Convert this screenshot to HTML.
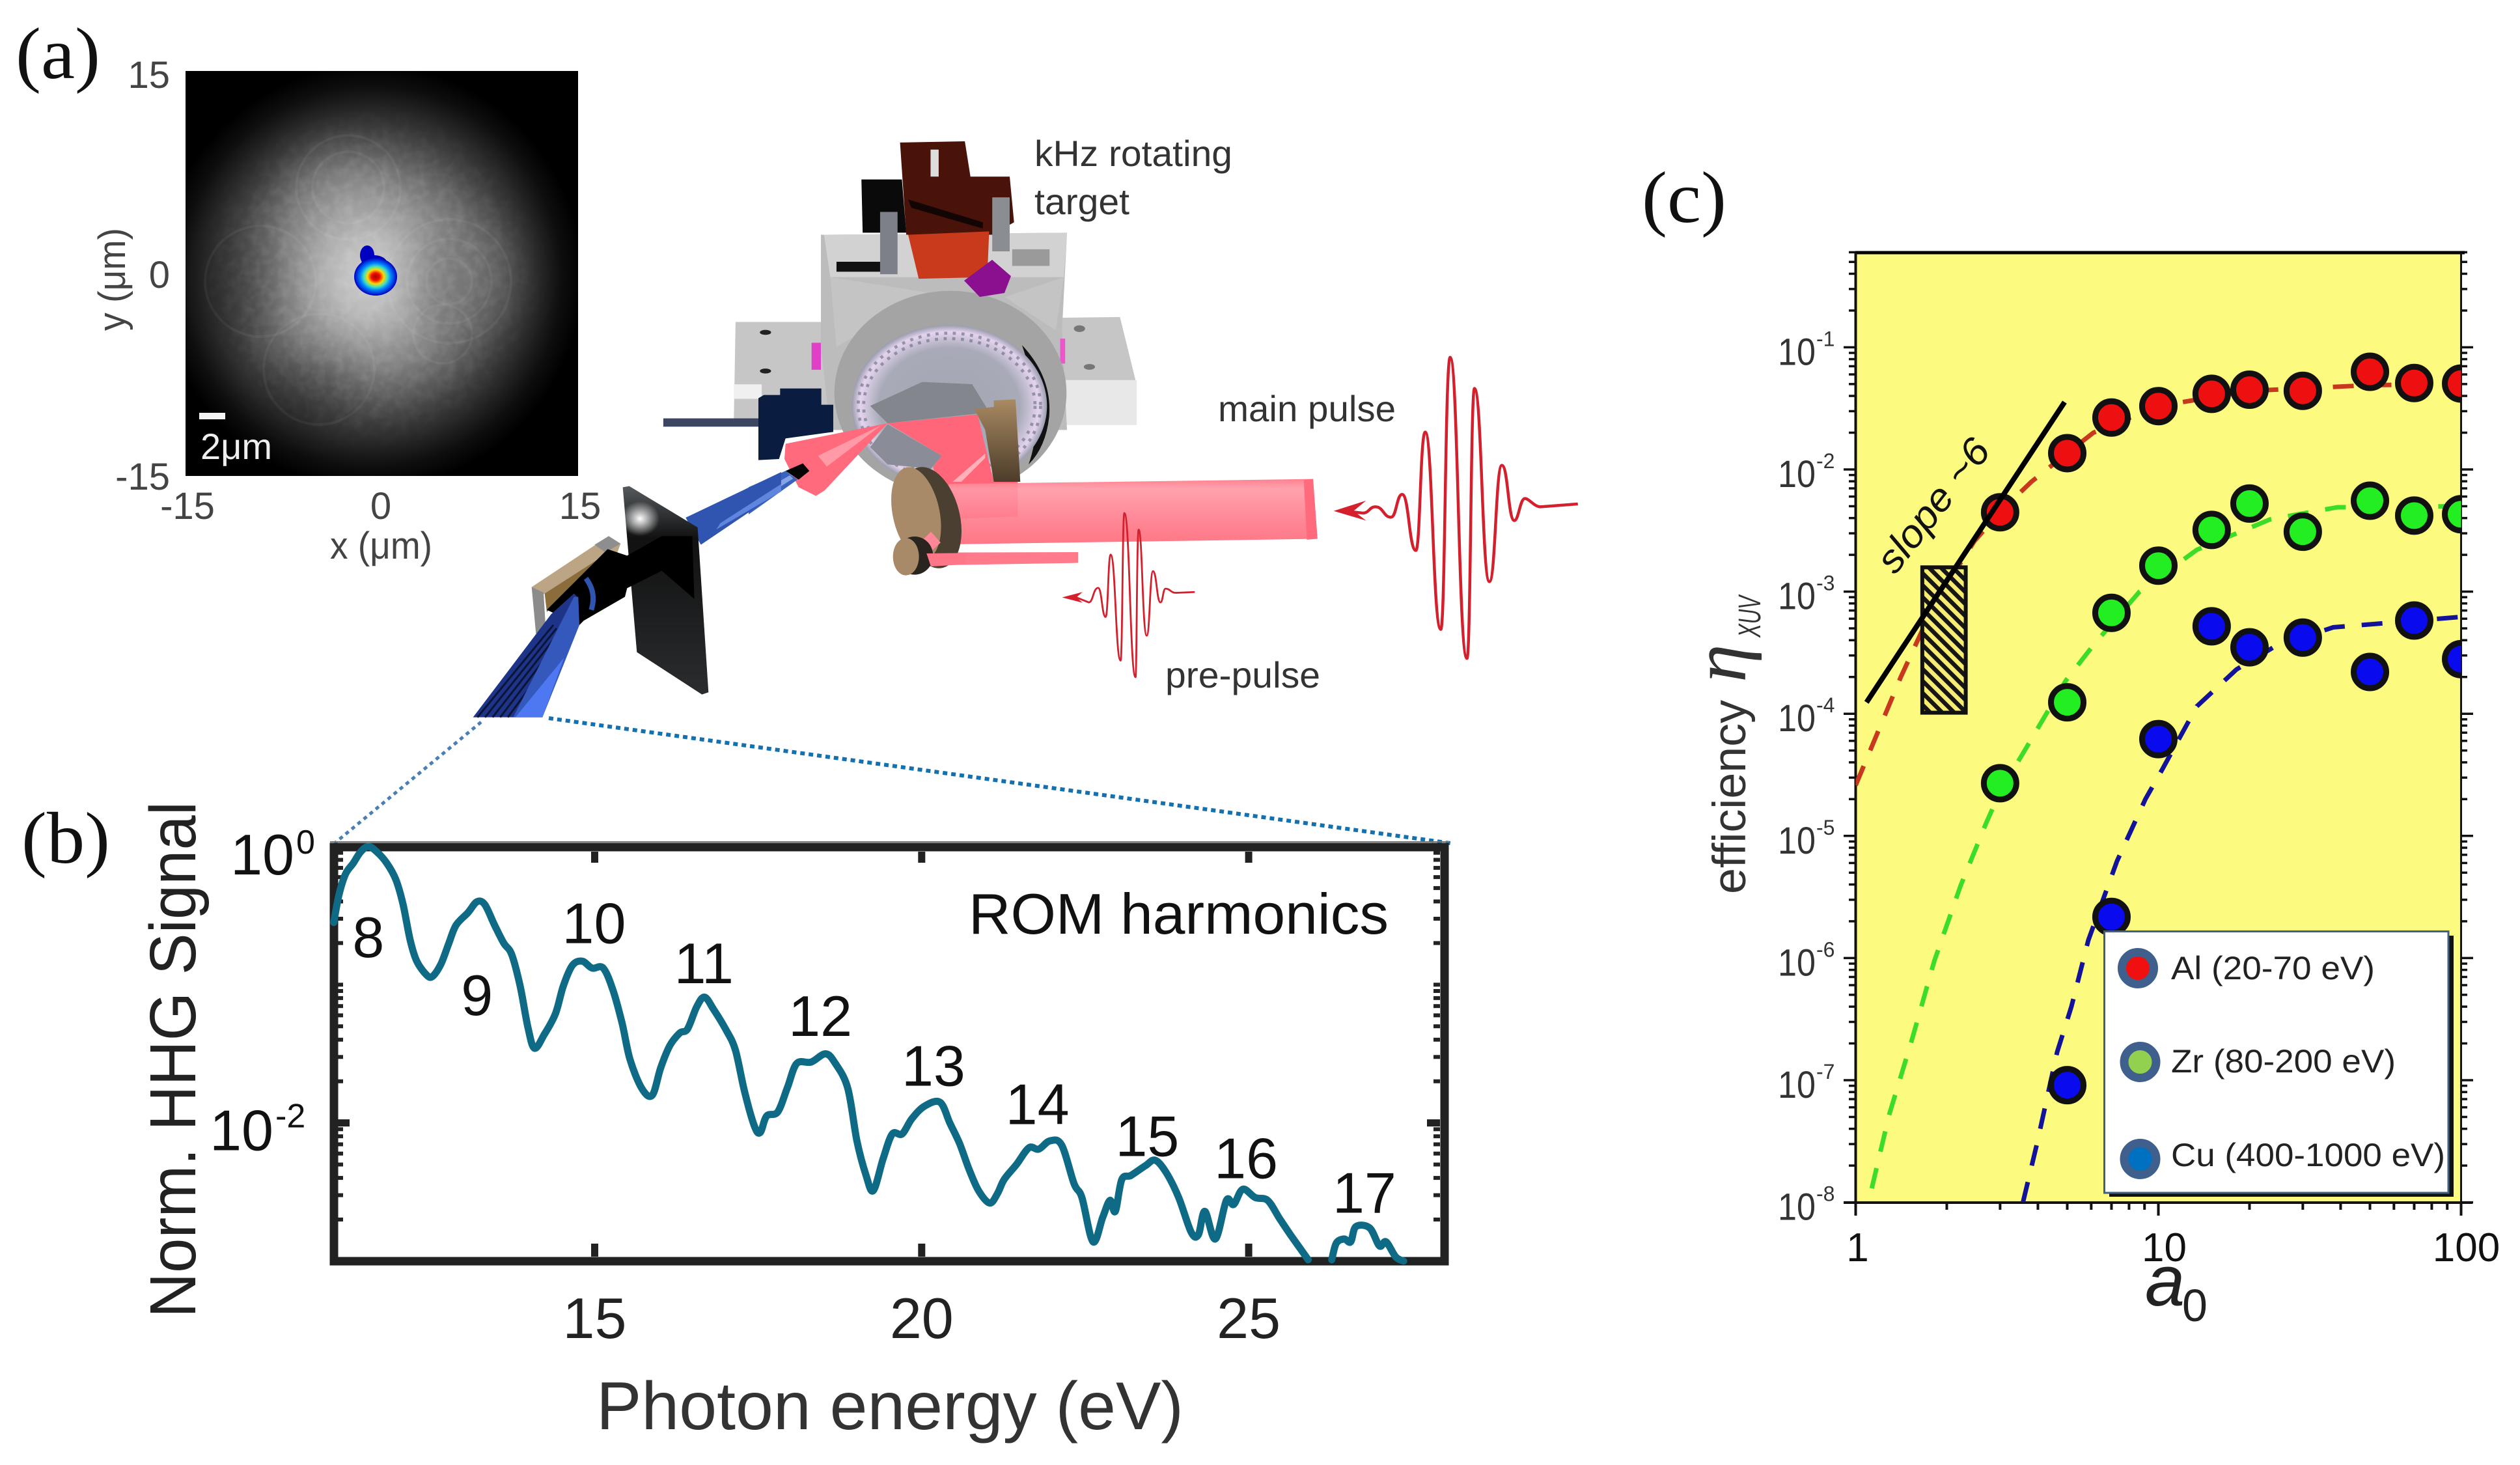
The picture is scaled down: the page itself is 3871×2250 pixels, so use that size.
<!DOCTYPE html>
<html lang="en">
<head>
<meta charset="utf-8">
<title>ROM harmonics experiment</title>
<style>
html,body{margin:0;padding:0;background:#fff}
svg{display:block}
text{font-family:"Liberation Sans",sans-serif}
.serif{font-family:"Liberation Serif",serif}
</style>
</head>
<body>
<svg id="fig" xmlns="http://www.w3.org/2000/svg" width="3871" height="2250" viewBox="0 0 3871 2250">
<defs>
  <radialGradient id="speckle" gradientUnits="userSpaceOnUse" cx="570" cy="425" r="325">
    <stop offset="0" stop-color="#d2d2d2"/><stop offset=".2" stop-color="#b4b4b4"/><stop offset=".45" stop-color="#7c7c7c"/><stop offset=".7" stop-color="#3a3a3a"/><stop offset=".9" stop-color="#0e0e0e"/><stop offset="1" stop-color="#000"/>
  </radialGradient>
  <radialGradient id="noiseFade"><stop offset="0" stop-color="#000"/><stop offset=".6" stop-color="#000" stop-opacity=".8"/><stop offset="1" stop-color="#000" stop-opacity="0"/></radialGradient>
  <radialGradient id="beam"><stop offset="0" stop-color="#a80000"/><stop offset=".2" stop-color="#f01000"/><stop offset=".38" stop-color="#ffd800"/><stop offset=".55" stop-color="#40e0c0"/><stop offset=".72" stop-color="#0080ff"/><stop offset="1" stop-color="#0000c0"/></radialGradient>
  <radialGradient id="discFill"><stop offset="0" stop-color="#a4a6b2"/><stop offset=".72" stop-color="#a8aab8"/><stop offset=".92" stop-color="#e4d4ee"/><stop offset="1" stop-color="#9a9cae"/></radialGradient>
  <linearGradient id="cyl" x1="0" y1="0" x2="0" y2="1"><stop offset="0" stop-color="#ff7686"/><stop offset=".15" stop-color="#ff9aa6"/><stop offset=".6" stop-color="#ff7f8e"/><stop offset="1" stop-color="#ff6b7c"/></linearGradient>
  <linearGradient id="brown" x1="0" y1="0" x2="0" y2="1"><stop offset="0" stop-color="#a98a62"/><stop offset="1" stop-color="#4c3c2a"/></linearGradient>
  <linearGradient id="plateFill" x1="0" y1="0" x2="0" y2="1"><stop offset="0" stop-color="#555a5e"/><stop offset=".25" stop-color="#111"/><stop offset="1" stop-color="#2a2c2e"/></linearGradient>
  <radialGradient id="glint"><stop offset="0" stop-color="#fff"/><stop offset="1" stop-color="#fff" stop-opacity="0"/></radialGradient>
  <pattern id="hatch" patternUnits="userSpaceOnUse" width="13" height="13" patternTransform="rotate(45)">
    <rect width="13" height="13" fill="#f6ec72"/><rect width="13" height="6.5" fill="#161616"/>
  </pattern>
  <filter id="blur30" x="-50%" y="-50%" width="200%" height="200%"><feGaussianBlur stdDeviation="30"/></filter>
  <filter id="noise" x="0" y="0" width="100%" height="100%">
    <feTurbulence type="fractalNoise" baseFrequency=".07" numOctaves="2" seed="4"/>
    <feColorMatrix type="matrix" values="0 0 0 0 1  0 0 0 0 1  0 0 0 0 1  1.6 0 0 0 -.55"/>
    <feComposite in2="SourceAlpha" operator="in"/>
  </filter>
  <clipPath id="insetClip"><rect x="285" y="109" width="603" height="622"/></clipPath>
  <clipPath id="plotClip"><rect x="2850.5" y="387.5" width="930" height="1459"/></clipPath>
</defs>

<!-- panel letters -->
<text class="serif" x="24" y="120" font-size="112" fill="#111" textLength="130" lengthAdjust="spacingAndGlyphs" style="font-family:'Liberation Serif',serif">(a)</text>
<text class="serif" x="33" y="1325" font-size="112" fill="#111" textLength="136" lengthAdjust="spacingAndGlyphs" style="font-family:'Liberation Serif',serif">(b)</text>
<text class="serif" x="2522" y="341" font-size="112" fill="#111" textLength="130" lengthAdjust="spacingAndGlyphs" style="font-family:'Liberation Serif',serif">(c)</text>

<!-- panel a inset -->
<g>
  <rect x="285" y="109" width="603" height="622" fill="#000"/>
  <g clip-path="url(#insetClip)">
    <rect x="285" y="109" width="603" height="622" fill="url(#speckle)"/>
    <g filter="url(#blur30)" fill="#000" fill-opacity=".18">
      <ellipse cx="690" cy="430" rx="70" ry="75"/><ellipse cx="380" cy="440" rx="50" ry="80"/><ellipse cx="480" cy="600" rx="70" ry="50"/>
    </g>
    <g filter="url(#blur30)" fill="#fff" fill-opacity=".1">
      <ellipse cx="520" cy="290" rx="80" ry="70"/><ellipse cx="740" cy="420" rx="60" ry="80"/>
    </g>
    <circle cx="570" cy="425" r="270" fill="url(#noiseFade)" filter="url(#noise)" opacity=".16"/>
    <g fill="none" stroke="#fff" stroke-opacity=".05" stroke-width="4">
      <circle cx="535" cy="288" r="80"/><circle cx="535" cy="288" r="55"/><circle cx="690" cy="432" r="95"/><circle cx="690" cy="432" r="65"/><circle cx="690" cy="432" r="35"/>
      <circle cx="680" cy="513" r="45"/><circle cx="400" cy="432" r="85"/><circle cx="490" cy="567" r="85"/>
    </g>
  </g>
  <ellipse cx="564" cy="392" rx="11" ry="15" fill="#0000c0"/>
  <ellipse cx="575" cy="405" rx="20" ry="13" fill="#0000c0"/>
  <ellipse cx="577" cy="425" rx="33" ry="29" fill="url(#beam)"/>
  <rect x="306" y="634" width="40" height="10" fill="#f4f4f4"/>
  <text x="308" y="705" font-size="56" fill="#eee" textLength="110" lengthAdjust="spacingAndGlyphs">2μm</text>
  <g font-size="58" fill="#444">
    <text x="261" y="135" text-anchor="end">15</text>
    <text x="261" y="442" text-anchor="end">0</text>
    <text x="261" y="752" text-anchor="end">-15</text>
    <text x="288" y="797" text-anchor="middle">-15</text>
    <text x="585" y="797" text-anchor="middle">0</text>
    <text x="891" y="797" text-anchor="middle">15</text>
    <text x="507" y="858" textLength="157" lengthAdjust="spacingAndGlyphs">x (μm)</text>
    <text x="192" y="508" transform="rotate(-90 192 508)" textLength="158" lengthAdjust="spacingAndGlyphs">y (μm)</text>
  </g>
</g>

<!-- apparatus: coordinates in local sketch space -->
<g transform="translate(950,150) scale(.957,.638)">
  <polygon points="188,540 340,540 340,790 185,790" fill="#c6c6c6"/>
  <polygon points="185,690 230,690 230,725 185,725" fill="#f0f0f0"/>
  <polygon points="700,530 805,528 830,680 700,680" fill="#c6c6c6"/>
  <polygon points="700,680 832,680 832,788 700,788" fill="#e8e8e8"/>
  <ellipse cx="236" cy="565" rx="9" ry="6" fill="#222"/><ellipse cx="236" cy="658" rx="9" ry="6" fill="#222"/>
  <ellipse cx="740" cy="556" rx="9" ry="8" fill="#777"/><ellipse cx="756" cy="648" rx="9" ry="7" fill="#777"/>
  <polygon points="325,330 720,325 712,560 720,800 340,800 325,600" fill="#bcbcbc"/>
  <polygon points="330,330 720,325 715,432 340,432" fill="#d2d2d2"/>
  <polygon points="340,432 500,470 350,600" fill="#c4c4c4"/>
  <polygon points="715,432 620,480 702,560" fill="#c4c4c4"/>
  <rect x="350" y="395" width="78" height="24" fill="#111"/>
  <rect x="632" y="365" width="60" height="40" fill="#9a9a9a"/>
  <rect x="310" y="590" width="15" height="65" fill="#e040c8"/><rect x="709" y="580" width="8" height="60" fill="#ee55cc"/>
  <polygon points="390,197 455,197 462,325 392,325" fill="#0a0a0a"/>
  <polygon points="452,108 556,105 565,190 628,190 635,300 600,330 462,330" fill="#4a1309"/>
  <polygon points="465,245 585,300 585,315 470,265" fill="#120604"/>
  <polygon points="465,330 595,322 592,432 482,436" fill="#c93a1c"/>
  <rect x="501" y="125" width="13" height="65" fill="#ddd"/>
  <rect x="420" y="275" width="28" height="150" fill="#7d8088"/>
  <rect x="600" y="240" width="28" height="130" fill="#8a8d92"/>
  <rect x="72" y="772" width="165" height="20" fill="#3d4660"/>
</g>

<g transform="translate(1150,500) scale(.3333)">
  <ellipse cx="930" cy="310" rx="535" ry="470" fill="#a4a4a4"/>
  <polygon points="993,-207 1122,-303 1209,-228 1179,-150 1065,-132" fill="#8a1090"/>
  <path d="M1260,90 Q1400,240 1385,420 Q1370,560 1290,640 Q1370,420 1260,90Z" fill="#111"/>
  <ellipse cx="925" cy="370" rx="450" ry="372" fill="url(#discFill)"/>
  <ellipse cx="925" cy="370" rx="395" ry="310" fill="none" stroke="#5d6078" stroke-opacity=".55" stroke-width="14" stroke-dasharray="14 26"/>
  <ellipse cx="925" cy="370" rx="420" ry="335" fill="none" stroke="#5d6078" stroke-opacity=".55" stroke-width="14" stroke-dasharray="14 26"/>
  <polygon points="560,370 800,260 1030,270 1110,400 640,450" fill="#84868e"/>
  <polygon points="640,455 890,600 840,660 640,640 560,560" fill="#8a8c98"/>
  <path d="M45,335 70,320 145,320 145,290 335,290 335,365 390,365 390,490 170,520 140,615 45,620Z" fill="#0a1c40"/>
  <path d="M1040,385 1130,375 1130,345 1230,340 1252,720 1130,720 1090,480Z" fill="url(#brown)"/>
  <polygon points="640,450 170,545 165,615 230,745 310,785 350,760" fill="#ff6a7d"/>
  <polygon points="610,460 320,600 360,650" fill="#ff9aa6"/>
  <polygon points="640,450 1055,410 1130,720 1240,720 1240,880 980,890 930,1000 850,650 890,600" fill="#ff6679"/>
  <polygon points="1090,590 940,720 980,720 1090,610" fill="#ffb0b8"/>
  <polygon points="0,745 170,670 225,710 0,870" fill="#3b63bd"/>
  <polygon points="0,800 190,690 205,705 0,835" fill="#86a4e8"/>
  <polygon points="170,670 250,635 280,670 230,710" fill="#050505"/>
</g>

<g transform="translate(950,150) scale(.957,.638)">
  <polygon points="530,930 1115,918 1122,1062 545,1075" fill="url(#cyl)" fill-opacity=".92"/>
  <polygon points="1100,920 1115,918 1122,1062 1105,1064" fill="#ff6b7d"/>
  <polygon points="495,1095 738,1094 738,1120 495,1126" fill="#ff7a8a"/>
  <path fill="none" stroke="#d4202c" stroke-width="4.5" vector-effect="non-scaling-stroke" d="M1540,978 L1480,985 C1470,985 1462,965 1455,965 C1447,965 1445,1018 1438,1018 C1428,1018 1428,885 1418,885 C1408,885 1408,1165 1398,1165 C1386,1165 1386,700 1374,700 C1368,700 1368,1350 1362,1350 C1348,1350 1348,625 1335,625 C1327,625 1327,1280 1320,1280 C1307,1280 1307,805 1295,805 C1287,805 1287,1090 1280,1090 C1269,1090 1269,955 1258,955 C1249,955 1249,1010 1240,1010 C1228,1010 1228,985 1215,985 C1205,985 1205,1000 1195,1000 L1165,995"/>
  <polygon points="1148,995 1200,970 1180,995 1200,1018" fill="#d4202c"/>
  <path fill="none" stroke="#d4202c" stroke-width="2.8" vector-effect="non-scaling-stroke" d="M925,1190 L895,1192 C886,1192 886,1182 878,1182 C874,1182 874,1215 870,1215 C864,1215 864,1140 858,1140 C853,1140 853,1295 848,1295 C841,1295 841,1040 835,1040 C832,1040 832,1395 830,1395 C821,1395 821,1000 812,1000 C809,1000 809,1355 806,1355 C798,1355 798,1100 790,1100 C786,1100 786,1250 782,1250 C776,1250 776,1180 770,1180 C762,1180 762,1215 755,1215 L735,1203"/>
  <polygon points="712,1203 745,1190 735,1203 745,1216" fill="#d4202c"/>
</g>

<g transform="translate(1150,500) scale(.3333)">
  <ellipse cx="838" cy="885" rx="135" ry="238" transform="rotate(-14 838 885)" fill="#4a3f30"/>
  <ellipse cx="772" cy="865" rx="108" ry="216" transform="rotate(-12 772 865)" fill="#a98a68"/>
  <polygon points="790,1000 840,950 885,1000 830,1050" fill="#ff8796"/>
  <ellipse cx="765" cy="1060" rx="85" ry="88" fill="#2a2420"/>
  <ellipse cx="725" cy="1065" rx="60" ry="86" fill="#a98a68"/>
  <polygon points="820,1050 1000,1048 1000,1100 840,1110" fill="#ff7688"/>
</g>

<g transform="translate(700,720) scale(.3333)">
  <polygon points="1060,225 1500,15 1500,100 1130,350" fill="#2f55b0"/>
  <polygon points="1220,250 1500,70 1500,105 1200,280" fill="#5f85dd"/>
  <polygon points="770,85 800,80 1115,270 1165,1030 1135,1040 835,845" fill="url(#plateFill)"/>
  <ellipse cx="850" cy="230" rx="90" ry="80" fill="url(#glint)"/>
  <polygon points="350,545 705,310 760,345 740,400 415,580" fill="#bba584"/>
  <polygon points="640,350 705,310 760,345 690,385" fill="#8e8e8e"/>
  <polygon points="350,545 405,570 415,740 370,760" fill="#8c8c8c"/>
  <polygon points="410,575 690,395 560,520 420,660" fill="#8a6d3a"/>
  <polygon points="420,650 700,370 790,400 950,310 1090,310 1100,600 950,470 790,550 780,590 590,700 570,720" fill="#000"/>
  <polygon points="80,1145 440,670 545,575 560,590 400,1145" fill="#1d3488"/>
  <g stroke="#0c1436" stroke-width="9">
    <line x1="100" y1="1145" x2="450" y2="720"/><line x1="135" y1="1145" x2="465" y2="735"/><line x1="170" y1="1145" x2="480" y2="750"/><line x1="205" y1="1145" x2="495" y2="765"/><line x1="240" y1="1145" x2="510" y2="780"/>
  </g>
  <polygon points="265,1145 545,590 565,590 570,720 400,1145" fill="#3458bc"/>
  <polygon points="275,1145 500,870 400,1145" fill="#4e78f2"/>
  <path d="M600,505 Q650,570 625,650" fill="none" stroke="#2f55b0" stroke-width="24"/>
</g>

<!-- zoom connector -->
<line x1="739" y1="1109" x2="514" y2="1295" stroke="#4a7fb5" stroke-width="5" stroke-dasharray="6 6"/>
<line x1="843" y1="1103" x2="2228" y2="1295" stroke="#1471b0" stroke-width="6" stroke-dasharray="7 6"/>

<!-- apparatus labels -->
<g fill="#333" font-size="56">
  <text x="1589" y="255" textLength="304" lengthAdjust="spacingAndGlyphs">kHz rotating</text>
  <text x="1589" y="329" textLength="146" lengthAdjust="spacingAndGlyphs">target</text>
  <text x="1871" y="647" textLength="273" lengthAdjust="spacingAndGlyphs">main pulse</text>
  <text x="1790" y="1056" textLength="238" lengthAdjust="spacingAndGlyphs">pre-pulse</text>
</g>

<!-- panel b -->
<g id="panelB">
  <line x1="507" y1="1293" x2="2226" y2="1293" stroke="#777" stroke-width="2"/>
  <rect x="513" y="1301" width="1706" height="636" fill="#fff" stroke="#222" stroke-width="13"/>
  <g id="bTicks" stroke="#222"></g>
  <path id="bCurve" fill="none" stroke="#0e6a85" stroke-width="11" stroke-linejoin="round" stroke-linecap="round"/>
  <g id="bLabels"></g>
  <text x="1488" y="1434" font-size="88" fill="#111" textLength="645" lengthAdjust="spacingAndGlyphs">ROM harmonics</text>
  <text x="300" y="2024" transform="rotate(-90 300 2024)" font-size="100" fill="#222" textLength="793" lengthAdjust="spacingAndGlyphs">Norm. HHG Signal</text>
  <text x="916" y="2195" font-size="104" fill="#333" textLength="902" lengthAdjust="spacingAndGlyphs">Photon energy (eV)</text>
</g>

<!-- panel c -->
<g id="panelC">
  <rect x="2850.5" y="387.5" width="930" height="1459" fill="#fdfa80"/>
  <g id="cTicks" stroke="#111"></g>
  <line x1="2850" y1="388" x2="3786" y2="388" stroke="#000" stroke-width="5"/>
  <line x1="2850.5" y1="388" x2="2850.5" y2="1847" stroke="#111" stroke-width="4"/>
  <line x1="3780.5" y1="388" x2="3780.5" y2="1847" stroke="#111" stroke-width="3"/>
  <line x1="2832" y1="1847" x2="3798" y2="1847" stroke="#111" stroke-width="4"/>
  <g id="cPlot" clip-path="url(#plotClip)"></g>
  <g id="cLabels" fill="#333"></g>
  <text x="2681" y="1373" transform="rotate(-90 2681 1373)" font-size="71" fill="#333" textLength="298" lengthAdjust="spacingAndGlyphs">efficiency</text>
  <text x="2681" y="1048" transform="rotate(-90 2681 1048)" font-size="118" fill="#333" font-style="italic" style="font-family:'Liberation Serif',serif">η</text>
  <text x="2704" y="979" transform="rotate(-90 2704 979)" font-size="48" fill="#333" font-style="italic" textLength="64" lengthAdjust="spacingAndGlyphs">XUV</text>
  <text x="3295" y="2005" font-size="110" font-style="italic" fill="#222">a</text>
  <text x="3352" y="2029" font-size="70" fill="#222">0</text>
  <text x="2911" y="884" transform="rotate(-52 2911 884)" font-size="60" font-style="italic" fill="#111" textLength="242" lengthAdjust="spacingAndGlyphs">slope ~6</text>

  <g>
    <rect x="3240" y="1437" width="529" height="401" fill="#111"/>
    <rect x="3232.5" y="1430.5" width="528.5" height="401.5" fill="#fff" stroke="#3f607f" stroke-width="3"/>
    <g>
      <circle cx="3284" cy="1487" r="24.5" fill="#f01010" stroke="#3f5f8c" stroke-width="13"/>
      <text x="3335" y="1504" font-size="50" fill="#222" textLength="313" lengthAdjust="spacingAndGlyphs">Al (20-70 eV)</text>
    </g>
    <g>
      <circle cx="3287.5" cy="1631" r="24.5" fill="#92d050" stroke="#3f5f8c" stroke-width="13"/>
      <text x="3335" y="1647" font-size="50" fill="#222" textLength="345" lengthAdjust="spacingAndGlyphs">Zr (80-200 eV)</text>
    </g>
    <g>
      <circle cx="3287.5" cy="1780" r="24.5" fill="#0070c0" stroke="#3f5f8c" stroke-width="13"/>
      <text x="3335" y="1791" font-size="50" fill="#222" textLength="421" lengthAdjust="spacingAndGlyphs">Cu (400-1000 eV)</text>
    </g>
  </g>
</g>
</svg>

<script>
// ---- Panel (b) data: HHG spectrum ----
const specEnergy = [11.01,11.09,11.19,11.31,11.42,11.54,11.67,11.82,11.96,12.07,12.18,12.28,12.43,12.52,12.65,12.77,12.88,13.06,13.20,13.32,13.47,13.61,13.73,13.86,13.98,14.08,14.23,14.40,14.52,14.66,14.81,14.96,15.13,15.28,15.42,15.54,15.72,15.88,16.01,16.15,16.30,16.42,16.56,16.68,16.82,17.00,17.15,17.29,17.44,17.53,17.63,17.80,17.95,18.09,18.31,18.53,18.68,18.87,19.01,19.15,19.26,19.41,19.55,19.70,19.85,20.04,20.28,20.43,20.58,20.72,20.87,21.04,21.16,21.26,21.45,21.64,21.79,21.96,22.14,22.33,22.45,22.62,22.77,22.88,22.96,23.06,23.20,23.42,23.57,23.74,23.93,24.12,24.23,24.33,24.49,24.66,24.77,24.91,25.10,25.29,25.47,25.64,25.79,25.91,26.10,26.27,26.34,26.46,26.56,26.64,26.85,27.00,27.10,27.25,27.37];
const specLogSignal = [-0.55,-0.35,-0.20,-0.12,-0.04,0,-0.04,-0.12,-0.24,-0.42,-0.68,-0.83,-0.93,-0.94,-0.85,-0.70,-0.57,-0.48,-0.40,-0.42,-0.57,-0.70,-0.78,-1.01,-1.31,-1.46,-1.36,-1.21,-1.01,-0.86,-0.83,-0.88,-0.88,-1.04,-1.28,-1.54,-1.75,-1.80,-1.60,-1.44,-1.35,-1.32,-1.16,-1.09,-1.18,-1.32,-1.47,-1.77,-2.02,-2.07,-1.95,-1.92,-1.74,-1.57,-1.56,-1.50,-1.57,-1.75,-2.13,-2.38,-2.49,-2.26,-2.08,-2.08,-1.97,-1.88,-1.85,-2.00,-2.15,-2.33,-2.49,-2.58,-2.51,-2.41,-2.30,-2.18,-2.19,-2.13,-2.16,-2.44,-2.54,-2.86,-2.68,-2.56,-2.64,-2.41,-2.38,-2.31,-2.27,-2.36,-2.54,-2.79,-2.81,-2.64,-2.84,-2.56,-2.59,-2.48,-2.54,-2.56,-2.69,-2.81,-2.91,-2.99,null,-2.99,-2.87,-2.84,-2.86,-2.75,-2.76,-2.89,-2.86,-2.97,-3.00];
const specXTicks = [15,20,25];
const specYTickExps = [0,-2];
const harmonicOrders = [8,9,10,11,12,13,14,15,16,17];
const harmonicEnergies = [11.54,13.20,14.99,16.67,18.45,20.18,21.77,23.45,24.96,26.77];
const harmonicLogs = [-0.80,-1.22,-0.70,-0.99,-1.37,-1.73,-2.01,-2.24,-2.40,-2.65];

// ---- Panel (c) data: conversion efficiency ----
const a0Points = [3,5,7,10,15,20,30,50,70,100];
const alEfficiency = [4.46e-3,1.36e-2,2.66e-2,3.3e-2,4.16e-2,4.5e-2,4.4e-2,6.3e-2,5.1e-2,5.05e-2];
const zrEfficiency = [2.7e-5,1.24e-4,6.7e-4,1.63e-3,3.2e-3,5.26e-3,3.09e-3,5.55e-3,4.19e-3,4.3e-3];
const cuEfficiency = [null,9.1e-8,2.17e-6,6.2e-5,5.2e-4,3.5e-4,4.2e-4,2.2e-4,5.8e-4,2.8e-4];
const alFitA0 = [1,1.41,1.82,2.47,3,3.8,5,6.1,10,20,50,100];
const alFitEff = [2.6e-5,2e-4,7.9e-4,2.6e-3,4.5e-3,7.9e-3,1.36e-2,2e-2,3.3e-2,4.4e-2,4.9e-2,5e-2];
const zrFitA0 = [1.13,1.29,1.53,1.82,2.22,2.69,3,3.65,4.94,6.13,8.67,13.4,23.4,39,100];
const zrFitEff = [1.3e-8,5.2e-8,2.1e-7,9.5e-7,3.9e-6,1.25e-5,2.3e-5,5.2e-5,1.86e-4,3.7e-4,1e-3,2.2e-3,3.9e-3,4.9e-3,5e-3];
const cuFitA0 = [3.57,3.97,4.63,5.16,5.87,7.3,9.06,10.3,13.4,18.1,24,37.8,100];
const cuFitEff = [1e-8,3e-8,1.7e-7,4e-7,1.4e-6,6.2e-6,2e-5,3.5e-5,1.15e-4,2.3e-4,3.5e-4,5.1e-4,6.2e-4];
const slopeA0 = [1.086,4.9];
const slopeEff = [1.24e-4,3.56e-2];
const a0Range = [1.66,2.31];
const effRange = [1.58e-3,1.02e-4];
const cXTicks = [1,10,100];
const cYTickExps = [-1,-2,-3,-4,-5,-6,-7,-8];

const NS = 'http://www.w3.org/2000/svg';
function mk(tag, parent) { const e = document.createElementNS(NS, tag); parent.appendChild(e); return e; }
function set(e, o) { for (const k in o) e.setAttribute(k, o[k]); return e; }

// axis functions
const bx = E => 913.5 + (E - 15) * 100.46;
const by = l => 1300 - l * 212.3;
const cx = a => 2850.5 + Math.log10(a) * 465;
const cy = v => 1846.6 + (Math.log10(v) + 8) * -187.6;

// smooth path through pixel-mapped points (Catmull-Rom)
function smoothSegment(pts) {
  let d = 'M' + pts[0][0].toFixed(1) + ',' + pts[0][1].toFixed(1);
  for (let i = 0; i < pts.length - 1; i++) {
    const p0 = pts[Math.max(i - 1, 0)], p1 = pts[i], p2 = pts[i + 1], p3 = pts[Math.min(i + 2, pts.length - 1)];
    const c1x = p1[0] + (p2[0] - p0[0]) / 6, c1y = p1[1] + (p2[1] - p0[1]) / 6;
    const c2x = p2[0] - (p3[0] - p1[0]) / 6, c2y = p2[1] - (p3[1] - p1[1]) / 6;
    d += 'C' + c1x.toFixed(1) + ',' + c1y.toFixed(1) + ' ' + c2x.toFixed(1) + ',' + c2y.toFixed(1) + ' ' + p2[0].toFixed(1) + ',' + p2[1].toFixed(1);
  }
  return d;
}

// panel b
const bTicks = document.getElementById('bTicks');
const bLabels = document.getElementById('bLabels');
specXTicks.forEach(E => {
  [[1930, 1910], [1308, 1325]].forEach(p => {
    const t = mk('line', bTicks);
    
    
    set(t, {x1: bx(E), x2: bx(E), y1: p[0], y2: p[1], 'stroke-width': 11});
  });
  const lab = mk('text', bLabels);
  
  
  set(lab, {x: bx(E), y: 2055, 'font-size': 88, 'text-anchor': 'middle', fill: '#222'});
  lab.textContent = E;
});
for (let d = 0; d > -3; d--) {
  for (let k = 1; k <= 9; k++) {
    const l = d - 1 + Math.log10(k);
    const major = k === 1 && d - 1 === -2;
    [[519, major ? 537 : 527], [2212, major ? 2192 : 2202]].forEach(p => {
      const t = mk('line', bTicks);
      
      
      set(t, {x1: p[0], x2: p[1], y1: by(l), y2: by(l), 'stroke-width': major ? 11 : 6});
    });
  }
}
specYTickExps.forEach((ex, i) => {
  const base = mk('text', bLabels);
  
  
  const xEnd = i === 0 ? 452 : 420;
  set(base, {x: xEnd, y: by(ex) + (i === 0 ? 43 : 42), 'font-size': 88, 'text-anchor': 'end', fill: '#111'});
  base.textContent = '10';
  const sup = mk('text', bLabels);
  
  
  set(sup, {x: xEnd + 3, y: by(ex) + (i === 0 ? 11 : 7), 'font-size': 52, fill: '#111'});
  sup.textContent = ex;
});
let specPath = '', specSeg = [];
specEnergy.forEach((E, i) => {
  const l = specLogSignal[i];
  if (l === null) { if (specSeg.length) specPath += smoothSegment(specSeg); specSeg = []; return; }
  specSeg.push([bx(E), by(l)]);
});
if (specSeg.length) specPath += smoothSegment(specSeg);
document.getElementById('bCurve').setAttribute('d', specPath);
harmonicOrders.forEach((n, i) => {
  const t = mk('text', bLabels);
  
  
  set(t, {x: bx(harmonicEnergies[i]), y: by(harmonicLogs[i]), 'font-size': 88, 'text-anchor': 'middle', fill: '#111'});
  t.textContent = n;
});

// panel c ticks
const cTicks = document.getElementById('cTicks');
const cLabels = document.getElementById('cLabels');
for (let d = 0; d < 2; d++) {
  for (let k = 1; k <= 9; k++) {
    const a = k * Math.pow(10, d);
    const t = mk('line', cTicks);
    
    
    set(t, {x1: cx(a), x2: cx(a), y1: 1846, y2: k === 1 ? 1867 : 1858, 'stroke-width': 4});
  }
}
const topTick = mk('line', cTicks);


set(topTick, {x1: cx(100), x2: cx(100), y1: 1846, y2: 1867, 'stroke-width': 4});
for (let e = -8; e <= 0; e++) {
  for (let k = 1; k <= 9; k++) {
    const v = k * Math.pow(10, e);
    if (v > 0.62) continue;
    const major = k === 1;
    const tl = mk('line', cTicks);
    
    
    set(tl, {x1: 2851, x2: major ? 2832 : 2840, y1: cy(v), y2: cy(v), 'stroke-width': 3.5});
    const tr = mk('line', cTicks);
    
    
    set(tr, {x1: 3780, x2: major ? 3799 : 3790, y1: cy(v), y2: cy(v), 'stroke-width': 3.5});
  }
}
cYTickExps.forEach(ex => {
  const v = Math.pow(10, ex);
  const b = mk('text', cLabels);
  
  
  set(b, {x: 2731, y: cy(v) + 27, 'font-size': 58, textLength: 58, lengthAdjust: 'spacingAndGlyphs'});
  b.textContent = '10';
  const s = mk('text', cLabels);
  
  
  set(s, {x: 2790, y: cy(v) - 2, 'font-size': 32});
  s.textContent = ex;
});
cXTicks.forEach(a => {
  const t = mk('text', cLabels);
  
  
  set(t, {x: cx(a) + (a === 1 ? 3 : a === 10 ? 9 : 8), y: 1937, 'font-size': 62, 'text-anchor': 'middle', fill: '#111'});
  t.textContent = a;
});

// panel c series
const cPlot = document.getElementById('cPlot');
function fitPath(xs, ys) { return xs.map((a, i) => (i ? 'L' : 'M') + cx(a).toFixed(1) + ',' + cy(ys[i]).toFixed(1)).join(''); }

const alFit = mk('path', cPlot);


set(alFit, {d: fitPath(alFitA0, alFitEff), fill: 'none', stroke: '#c8381e', 'stroke-width': 7, 'stroke-dasharray': '32 26'});
const zrFit = mk('path', cPlot);


set(zrFit, {d: fitPath(zrFitA0, zrFitEff), fill: 'none', stroke: '#3cdc28', 'stroke-width': 7, 'stroke-dasharray': '32 26'});
const cuFit = mk('path', cPlot);


set(cuFit, {d: fitPath(cuFitA0, cuFitEff), fill: 'none', stroke: '#12129a', 'stroke-width': 7, 'stroke-dasharray': '32 26'});

const hatchBox = mk('rect', cPlot);


set(hatchBox, {x: cx(a0Range[0]), y: cy(effRange[0]), width: cx(a0Range[1]) - cx(a0Range[0]), height: cy(effRange[1]) - cy(effRange[0]), fill: 'url(#hatch)', stroke: '#111', 'stroke-width': 6});

a0Points.forEach((a, i) => {
  const p = mk('circle', cPlot);
  
  
  set(p, {cx: cx(a), cy: cy(alEfficiency[i]), r: 25, fill: '#ee1010', stroke: '#111', 'stroke-width': 9});
});
a0Points.forEach((a, i) => {
  const p = mk('circle', cPlot);
  
  
  set(p, {cx: cx(a), cy: cy(zrEfficiency[i]), r: 25, fill: '#22ee22', stroke: '#111', 'stroke-width': 9});
});
a0Points.forEach((a, i) => {
  if (cuEfficiency[i] === null) return;
  const p = mk('circle', cPlot);
  
  
  set(p, {cx: cx(a), cy: cy(cuEfficiency[i]), r: 25, fill: '#0a0aee', stroke: '#111', 'stroke-width': 9});
});

const slopeLine = mk('line', cPlot);


set(slopeLine, {x1: cx(slopeA0[0]), y1: cy(slopeEff[0]), x2: cx(slopeA0[1]), y2: cy(slopeEff[1]), stroke: '#000', 'stroke-width': 8});
</script>
</body>
</html>
